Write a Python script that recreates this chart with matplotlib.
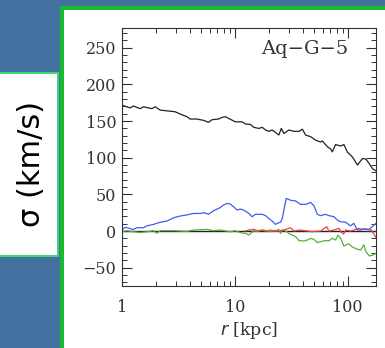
import matplotlib
matplotlib.use("Agg")
import matplotlib.pyplot as plt
from matplotlib.patches import Rectangle
from matplotlib.ticker import MultipleLocator, FixedLocator, FixedFormatter, LogLocator, NullFormatter

# ---- data ----
r_black = [1.0, 1.03, 1.18, 1.26, 1.45, 1.55, 1.84, 1.97, 2.18, 2.67, 2.96, 3.28, 3.76, 4.02, 4.61,
           5.28, 5.85, 6.26, 7.18, 7.68, 8.22, 8.8, 10.1, 11.6, 12.4, 13.7, 14.7, 16.3, 17.5, 18.7,
           20.0, 21.4, 22.9, 24.5, 25.8, 27.2, 30.1, 33.4, 37.0, 39.6, 42.3, 46.9, 51.9, 57.5, 59.5,
           66, 70.5, 73, 78, 86.5, 92.5, 99, 110, 122, 135, 145, 155, 166, 178]
s_black = [169, 171, 168, 170.5, 167, 169.5, 167, 169.5, 165, 163.5, 162.7, 159.6, 156, 152.8, 152.8,
           151, 148.3, 151.8, 152.8, 155, 156, 153.7, 149, 149, 146, 145.5, 141.5, 140, 141.5, 137.8,
           136, 137.8, 134.6, 131, 140, 133, 137.8, 136, 136, 139, 131, 128.7, 124, 121.4, 123,
           115, 112, 108, 118, 116, 118, 108, 101, 90, 99, 98, 92, 85, 82]

r_blue = [1.0, 1.01, 1.06, 1.14, 1.26, 1.35, 1.55, 1.66, 1.77, 1.9, 2.18, 2.5, 2.86, 3.28, 3.76,
          4.31, 4.94, 5.28, 5.85, 6.47, 7.42, 7.94, 8.51, 9.1, 9.75, 10.5, 11.2, 12.0, 13.3, 14.2,
          15.2, 17.5, 18.7, 20.0, 21.4, 22.9, 23.7, 25.4, 26.3, 28.5, 31.1, 34.5, 38.2, 42.3, 46.9,
          50.2, 53.8, 57.5, 63.7, 68.2, 75.5, 80.8, 86.5, 95.7, 106, 113, 122, 130, 139, 154, 165, 178]
s_blue = [1, 2, 5, 4, 2, 4.5, 4.5, 7, 8, 9, 12, 13.6, 18, 20.5, 22,
          24, 24, 25, 23, 27.7, 32, 35.5, 37.7, 36.8, 33, 28.6, 30, 28.6, 24, 19.5,
          22.8, 22.8, 21, 17, 13.6, 9, 10.5, 12, 17, 44.6, 42, 41, 36.4, 36.4, 39,
          34.5, 22.8, 21, 22.8, 21, 19.5, 15, 12.7, 12, 7, 10.5, 1.4, 1.4, 2.7, 2, 6, 10.5]

r_red = [12.4, 13.3, 14.7, 16.3, 18.0, 20.0, 22.1, 24.5, 27.2, 31.1, 33.4, 37.0, 44, 48.6, 57.5,
         65, 68, 75.5, 84, 86.5, 92, 95.7, 106, 118, 126, 130, 145, 162, 171, 178]
s_red = [0, 1.4, 2.3, 0, 1.4, -0.9, 0, 0, 1.4, 4.5, 0, 1.4, 0, -0.9, 0,
         6, 0, 1.4, 3.6, -0.9, -4, 1.4, 0, 2.3, 3.6, 2.7, 2.7, 1.4, -4.5, -9]

r_green = [1.0, 1.1, 1.26, 1.45, 1.66, 1.9, 2.03, 2.18, 2.86, 3.76, 4.31, 5.65, 6.47, 7.42, 9.1,
           10.1, 11.2, 12.4, 13.3, 14.7, 15.6, 16.9, 18.7, 20.7, 22.9, 24.5, 25.4, 26.3, 28.2, 30.1,
           32.2, 34.5, 37, 41, 44, 47, 50.2, 53.8, 57.5, 61.5, 68.2, 73, 78, 82, 86.5, 92.5,
           102, 110, 122, 130, 139, 145, 155, 166, 178]
s_green = [-1, 0.5, -1, -2, -1, 0.5, -3, 0.5, 0.5, -0.5, 1.4, 2.3, 0.5, 1.4, -1,
           0.5, -2.3, -3.2, -5.5, 0.5, -0.9, 1.4, 0, 1.4, 0, 2.3, -3.2, 1.4, 0, -3.2,
           -5.5, -7.7, -13, -13.6, -12.3, -10, -11.4, -15.9, -14.6, -13.2, -13.2, -10, -12.3, -5.5, -10, -20.5,
           -17.3, -21.8, -25, -26, -19, -28, -34, -33, -30.5]

label_text = "Aq\u2212G\u22125"
ylabel_text = "\u03c3 (km/s)"
xlabel_text = r"$r$ [kpc]"
yticks = [-50, 0, 50, 100, 150, 200, 250]
xticks = [1, 10, 100]

W, H = 385, 348
fig = plt.figure(figsize=(W / 100, H / 100), dpi=100)
fig.patch.set_facecolor("#44709f")

def frect(x0, y0, x1, y1, color):
    # pixel coords, top-down
    fig.patches.append(Rectangle((x0 / W, 1 - y1 / H), (x1 - x0) / W, (y1 - y0) / H,
                                 transform=fig.transFigure, facecolor=color, edgecolor="none", zorder=-10))

# main panel
frect(60, 6, 400, 400, "#16bb2e")
frect(64, 10, 400, 400, "#ffffff")
# left label box
frect(-5, 72, 59, 257, "#3ed672")
frect(-5, 74, 57, 255, "#ffffff")
fig.text(31 / W, 1 - 164 / H, ylabel_text, rotation=90, ha="center", va="center",
         fontsize=22, color="black", family=["DejaVu Sans"], zorder=5)

ax = fig.add_axes([122 / W, 1 - 286 / H, (376 - 122) / W, (286 - 28) / H], zorder=5)
ax.set_facecolor("white")
ax.set_xscale("log")
ax.set_xlim(1, 178)
ax.set_ylim(-75, 277)

ax.axhline(0, color="#222222", lw=1.0, zorder=1)
ax.plot(r_black, s_black, color="#222222", lw=0.9)
ax.plot(r_green, s_green, color="#55b03c", lw=0.9)
ax.plot(r_red, s_red, color="#f04040", lw=0.9)
ax.plot(r_blue, s_blue, color="#3d5cf5", lw=0.9)

serif = ["DejaVu Serif"]
ax.yaxis.set_major_locator(FixedLocator(yticks))
ax.yaxis.set_minor_locator(MultipleLocator(10))
ax.xaxis.set_major_locator(FixedLocator(xticks))
ax.xaxis.set_major_formatter(FixedFormatter([str(v) for v in xticks]))
ax.xaxis.set_minor_locator(LogLocator(base=10, subs=range(2, 10)))
ax.xaxis.set_minor_formatter(NullFormatter())
ax.tick_params(which="both", direction="in", top=True, right=True, color="#333333")
ax.tick_params(which="major", length=7, width=0.8, labelsize=11.5, labelcolor="#333333")
ax.tick_params(axis="x", which="major", pad=9)
ax.tick_params(axis="y", which="major", pad=4)
ax.tick_params(which="minor", length=3.5, width=0.7)
for lab in ax.get_xticklabels() + ax.get_yticklabels():
    lab.set_family(serif)
for s in ax.spines.values():
    s.set_color("#333333")
    s.set_linewidth(0.8)

ax.set_xlabel(xlabel_text, fontsize=12.5, color="#333333", family=serif, labelpad=3)
ax.text(0.89, 0.92, label_text, transform=ax.transAxes, ha="right", va="center",
        fontsize=14, color="#333333", family=serif)

fig.savefig("out.png", dpi=100, facecolor=fig.get_facecolor())
